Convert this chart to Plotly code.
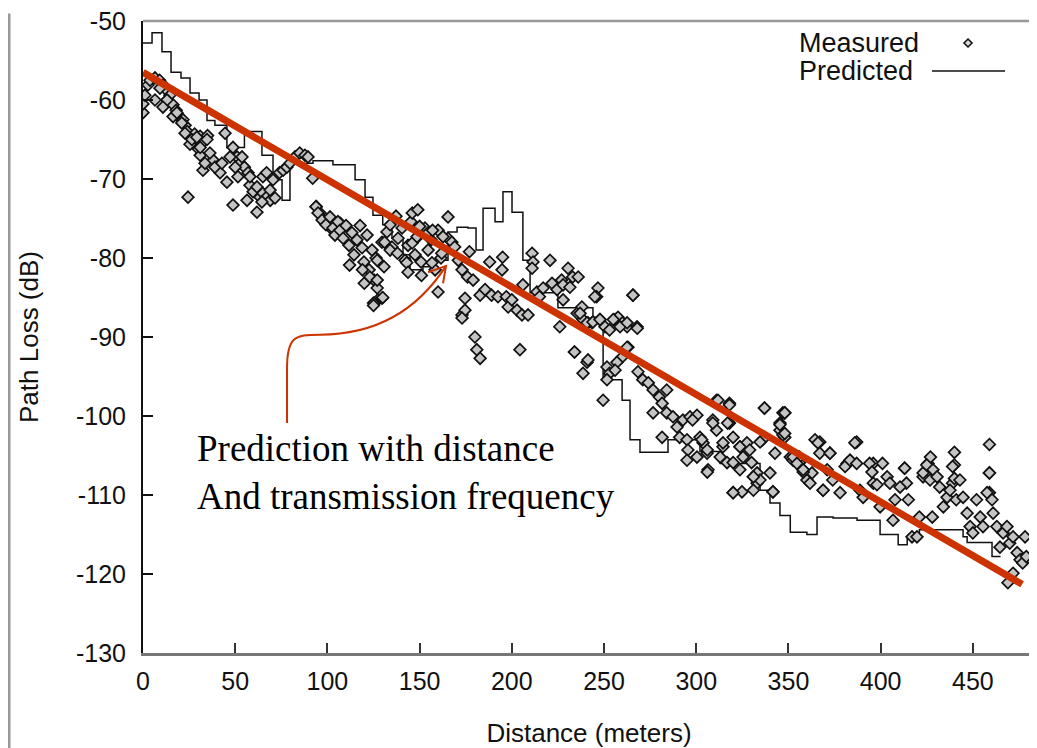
import plotly.graph_objects as go

# ---------------- data ----------------
# Measured path loss, grouped by distance band
near_x = [0, 0, 1, 2.7, 3.8, 6.5, 9, 11, 12.5, 14.6, 13, 16.3, 18, 19, 20, 21.7, 22.8,
          24, 26, 28, 29, 31, 33, 35, 25.5, 30,
          31, 32.5, 24.4, 38, 40, 41.8, 44.5, 45.5, 48.8, 48.8, 51, 52.6, 55, 57, 58, 59.7, 61.8, 63.4, 65, 67, 69, 71.6, 65, 67, 70.5, 74, 76, 78, 79.7, 82.4, 85, 87.8, 89.5, 92, 94, 96, 97.6, 101, 103, 107,
          6.5, 9.2, 13, 10.8, 16.3, 18.4, 21, 22.8, 26.5, 29.2, 34.7, 31, 36.3, 33.6, 39, 42.8, 47.2, 50, 53.7, 51.5, 58, 56.4, 61.8, 64.5, 68.9]
near_y = [-61.6, -60.5, -59.4, -58.1, -57.5, -57.2, -57.5, -58.1, -58.7, -59.4, -60, -60.6, -61.3, -61.9, -62.3, -62.5, -63.2,
          -64, -64.8, -64.3, -65.4, -64.6, -65.2, -64.5, -65.6, -66.2,
          -67, -68.9, -72.3, -67.6, -68.5, -69.2, -64.2, -70.4, -73.3, -66, -67.2, -68, -68.5, -69.2, -70.8, -71.6, -74.2, -72.3, -71.8, -72.3, -72.7, -72.4, -69.7, -69.2, -70.1, -69.2, -68.9, -68.5, -68, -67.2, -66.7, -67, -67.2, -69.9, -73.5, -74.3, -75.2, -75.6, -76.5, -75.6,
          -60, -58.5, -60, -60.9, -62.1, -61.6, -62.9, -64.2, -65, -64.7, -65, -66, -66.7, -68, -68.5, -68, -67.2, -68.5, -67.2, -69.7, -69.7, -72.7, -71, -72.9, -71.4]

band2_x = [93.8, 94.9, 97.1, 99.2, 101.4, 103, 104.1, 105.7, 106.8, 108.5, 110.1, 111.7, 113.3, 114.4, 116, 117.7, 118.8, 119.8, 121.5, 122.6, 124.2, 125.3, 126.4, 127.4, 129.6, 130.7, 132.3, 134, 135, 137.2, 138.3, 140.5, 142.1, 143.7, 145.3, 147.5, 149.1, 150.8, 152.9, 154.6, 156.2, 158.4, 160, 161.6,
           112, 119, 120, 125, 129.6, 123, 127]
band2_y = [-73.5, -74.3, -75.2, -75.8, -74.8, -76.2, -77.1, -75.4, -76.5, -77.5, -75.9, -78.4, -76.8, -79.6, -77.7, -75.9, -78.7, -80.5, -77.1, -81.5, -79, -82.8, -80, -85.3, -78, -81.1, -76.7, -75.8, -78.6, -74.7, -77.5, -76.2, -80.3, -78.4, -75.4, -79.6, -77.3, -80.5, -76.2, -79, -77.7, -81.5, -76.5, -80,
           -80.9, -81.5, -83.2, -85.7, -85.1, -82.4, -83.8]

band3_x = [127, 127, 130, 125, 131, 134, 138, 143, 143.7, 151, 146, 148.6, 146, 149, 150, 154.6, 157, 156.7, 160, 162, 165.4, 165.4, 167.5, 169, 171, 173, 176, 177, 174.6, 173, 174.6, 173, 180, 181, 182.8, 179, 182.8, 185.5, 188, 189, 192.5, 194.7, 195, 197, 198, 200, 202.8, 205.5, 204.4, 208.8, 206, 211, 211.5, 211, 213.6, 215, 217, 220.7, 221.8, 224.5, 227, 230.5, 227.8, 231.5, 233, 236, 226, 235.4, 238, 238.6, 241.3, 234, 240.8, 246.7, 246, 243.5, 247.8, 250.5, 253, 256, 257.6, 260, 262.5, 265.7, 267.9, 263, 260, 257, 162.7]
band3_y = [-80.3, -82.8, -85, -86, -78, -79, -79.4, -80.6, -81.8, -82.2, -78.1, -77.3, -74.3, -73.9, -76, -76.8, -76.5, -80.6, -84.3, -79.4, -74.8, -77.5, -78, -78.6, -80.3, -81.5, -82.4, -79.2, -85.1, -87.2, -86.6, -87.6, -90, -91.6, -92.7, -82.8, -84.7, -84, -80.5, -84.7, -84.9, -81.5, -79.9, -84.9, -86.2, -85.3, -86.6, -87.2, -91.6, -87.2, -83.4, -79.4, -80.5, -81.3, -84.3, -84.9, -83.8, -80.3, -83.2, -84, -82.8, -81.3, -83.4, -83.7, -82.4, -82.4, -88.7, -87, -86.2, -87.8, -88.2, -91.9, -93.2, -83.8, -84.9, -88.2, -87.8, -88.7, -89.1, -87.8, -87.5, -88.2, -88.7, -84.7, -88.7, -91.3, -92.5, -93.2, -77.3]

band4_x = [227.8, 245, 265.7, 234, 241.3, 238.6, 249.5, 237, 240.8, 244, 247.8, 255, 258.7, 262.5, 268, 251.6, 253, 251.6, 256, 262.5, 268.4, 271, 274, 276.6, 280, 284, 281.5, 276.6, 284, 287.4, 289.6, 281.5, 291, 295, 292.8, 296.6, 300.4, 295.5, 295, 302, 303.7, 305.9, 306.4, 309, 311, 311, 313, 314.5, 316.7, 318, 318, 320, 320, 323.7, 325.4, 323.7, 327.5, 329, 330, 331, 333, 333, 334.6, 320, 324.8, 331, 336, 337, 340, 341.6, 342.7, 345.4, 345.4, 347, 348, 351, 352.5, 356, 358, 360, 362.8, 364.4]
band4_y = [-85.3, -84.9, -84.7, -91.9, -92.9, -94.6, -98, -87, -88.2, -88.1, -87.8, -87.8, -88.7, -88.2, -88.9, -93.8, -94.6, -95.4, -94.2, -91.3, -94.4, -95.4, -95.8, -96.7, -97.6, -96.7, -98.4, -99.6, -99.6, -100.1, -101.4, -102.7, -102.7, -103, -100.5, -100.1, -99.9, -104.3, -105.6, -102.7, -103.4, -104.7, -106.8, -100.5, -98, -101.8, -105.2, -103.9, -105.9, -100.9, -98.4, -102.7, -105.9, -103.9, -105.2, -106.8, -103.4, -104.3, -105.9, -107.7, -107.2, -108.5, -108.1, -109.7, -109.6, -109.4, -103, -99, -107.2, -109.6, -104.7, -101.8, -100.9, -99.6, -102.7, -105.2, -105.6, -105.9, -106.8, -108.1, -107.2, -103]

band5_x = [311.8, 318, 337, 348, 298, 309, 317, 345.4, 347, 334.6, 367, 387, 303, 314.5, 323.7, 306, 356, 372.5, 383.4, 396, 413, 425.7, 440, 459, 300.4, 306, 320, 331, 341.6, 358, 368.8, 381.8, 396, 414, 423, 439, 459,
           459, 440, 427]
band5_y = [-98, -98.6, -99, -99.6, -100.5, -100.9, -100.9, -101.1, -102.4, -103.3, -103.3, -103.3, -103, -103.4, -103.9, -104.3, -105.2, -104.7, -105.6, -106, -106.6, -106, -106.2, -107.2, -105.2, -107.1, -109.7, -107.7, -109.6, -107.1, -109.4, -106, -108.5, -108.5, -107.7, -108.5, -109.7,
           -103.6, -104.6, -105.2]

far_x = [348, 348, 352.5, 354.6, 358, 361.7, 366, 367, 368.8, 371, 372.5, 374, 378, 380.7, 383.4, 386, 387, 388.8, 390.5, 394, 395.3, 398, 399.7, 401, 403.5, 405, 407.8, 406.7, 410.5, 413, 415, 417, 419.7, 421, 423, 425, 426.8, 428, 428.4, 430.6, 432, 434, 436, 437.6, 439, 440, 441, 443, 444.7, 446.9, 448.5, 450, 452, 454, 455.5, 457.7, 459, 460.4, 461, 463, 464.7, 466.4, 468.5, 470, 471.8, 474, 475.6, 477, 471.8, 469, 479, 478.3]
far_y = [-99.6, -102.2, -105.2, -106, -106.8, -108.5, -103.4, -104.7, -109.4, -106.8, -104.7, -108.1, -109.7, -106.4, -105.6, -103.4, -106, -109.4, -110.3, -106, -107.1, -108.7, -111.5, -106, -107.7, -108.5, -110.6, -113.2, -109, -106.6, -110.6, -115.3, -115.3, -112.8, -107.2, -106.2, -108.1, -112.8, -106.8, -107.7, -109, -111.5, -110.3, -109.4, -106.4, -107.9, -110.6, -108.1, -110.3, -112.3, -114, -114.8, -110.6, -112.8, -114, -109.7, -107.2, -110.6, -112.3, -114, -116.6, -114.8, -114, -116.1, -115.3, -117.3, -118.2, -118.6, -119.9, -121.1, -117.8, -115.3]

measured_x = near_x + band2_x + band3_x + band4_x + band5_x + far_x
measured_y = near_y + band2_y + band3_y + band4_y + band5_y + far_y

# Predicted path loss (step curve, value holds until next distance)
pred_x = [0, 4.9, 10.3, 15.2, 20.6, 25.5, 30.4, 34.7, 39, 45.5, 55, 64.5, 70.5, 75.4, 79.7, 92.2, 103,
          115, 120.4, 124.7, 130, 135, 141, 144.8, 151.8, 158.4, 165.4, 170.3, 176.2, 180.6, 184.4, 190.9,
          195.2, 200.1, 206, 209.9, 225, 244, 249.5, 259.8, 264.1, 269.5, 284.7, 302, 313, 334.6, 340,
          345.4, 351, 360, 365.5, 374.2, 387.2, 399.7, 409.5, 414.4, 417.6, 421, 444.7, 446.9, 460.4, 465]
pred_y = [-52.8, -51.5, -53.9, -56.5, -57.2, -59.1, -60.0, -62.6, -63.2, -66.0, -64.0, -67, -70.1, -72.7, -68, -67.7, -68.2,
          -70.1, -72.3, -74.6, -75.8, -77.5, -79.6, -81.5, -81.1, -80.3, -76.7, -76.1, -76.2, -79, -73.7, -75.4,
          -71.6, -74.2, -80.3, -84.4, -86.3, -87.5, -95.4, -98, -103, -104.6, -103, -104.5, -106, -109.4, -111,
          -112.6, -114.7, -115, -112.8, -112.9, -113.2, -115, -116.3, -115.3, -114.8, -114.4, -115.3, -116, -117.8, -117.8]

# Red trend line (distance + frequency prediction)
trend_x = [0, 476.7]
trend_y = [-56.5, -121.3]

x_ticks = [0, 50, 100, 150, 200, 250, 300, 350, 400, 450]
x_tick_labels = ["0", "50", "100", "150", "200", "250", "300", "350", "400", "450"]
y_ticks = [-130, -120, -110, -100, -90, -80, -70, -60, -50]
y_tick_labels = ["-130", "-120", "-110", "-100", "-90", "-80", "-70", "-60", "-50"]

note_text = "Prediction with distance<br>And transmission frequency"
arrow_curve = [(78.1, -100.9), (78.1, -94.0), (78.1, -90.0), (82.0, -89.7), (96.0, -89.7),
               (118.0, -89.7), (145.0, -88.0), (164.3, -81.0)]
arrow_head = [(154.6, -81.8), (164.3, -81.0), (162.7, -83.2)]

RED = "#cc3300"
FONT = "Liberation Sans, Arial, Helvetica, sans-serif"

fig = go.Figure()
fig.add_trace(go.Scatter(x=pred_x, y=pred_y, mode="lines", line=dict(shape="hv", color="#111", width=1.5),
                         name="Predicted", showlegend=False, hoverinfo="skip"))
fig.add_trace(go.Scatter(x=measured_x, y=measured_y, mode="markers", name="Measured", showlegend=False,
                         marker=dict(symbol="diamond", size=9, color="#c4c4c4",
                                     line=dict(color="#111", width=1.7))))
fig.add_trace(go.Scatter(x=trend_x, y=trend_y, mode="lines", line=dict(color=RED, width=7),
                         showlegend=False, hoverinfo="skip"))

# Annotation arrow
p = arrow_curve
curve_path = (f"M {p[0][0]},{p[0][1]} L {p[1][0]},{p[1][1]} "
              f"C {p[2][0]},{p[2][1]} {p[3][0]},{p[3][1]} {p[4][0]},{p[4][1]} "
              f"C {p[5][0]},{p[5][1]} {p[6][0]},{p[6][1]} {p[7][0]},{p[7][1]}")
h = arrow_head
head_path = f"M {h[0][0]},{h[0][1]} L {h[1][0]},{h[1][1]} L {h[2][0]},{h[2][1]}"

shapes = [
    dict(type="path", xref="x", yref="y", path=curve_path, line=dict(color=RED, width=2)),
    dict(type="path", xref="x", yref="y", path=head_path, line=dict(color=RED, width=2)),
    # frame
    dict(type="line", xref="paper", yref="paper", x0=0, x1=1, y0=1, y1=1, line=dict(color="#999", width=2.5)),
    dict(type="line", xref="paper", yref="paper", x0=1, x1=1, y0=0, y1=1, line=dict(color="#c8c8c8", width=2)),
    # page edge at left
    dict(type="path", xref="paper", yref="paper",
         path="M -0.1530,1.0095 L -0.1502,1.0095 L -0.1502,-0.16", line=dict(color="#999", width=3)),
    # legend samples
    dict(type="line", xref="paper", yref="paper", x0=0.8845, x1=0.9664, y0=0.9209, y1=0.9209,
         line=dict(color="#111", width=1.5)),
    dict(type="path", xref="paper", yref="paper",
         path="M 0.9204,0.9652 L 0.9249,0.9715 L 0.9294,0.9652 L 0.9249,0.9589 Z",
         line=dict(color="#111", width=1.6), fillcolor="#d9d9d9"),
]

annotations = [
    dict(x=28.2, y=-107.2, xref="x", yref="y", text=note_text, showarrow=False, align="left",
         xanchor="left", yanchor="middle", font=dict(family="Liberation Serif, Times New Roman, serif", size=37, color="#000")),
    dict(x=0.7332, y=0.9652, xref="paper", yref="paper", text="Measured", showarrow=False,
         xanchor="left", yanchor="middle", font=dict(family=FONT, size=27, color="#111")),
    dict(x=0.7332, y=0.9209, xref="paper", yref="paper", text="Predicted", showarrow=False,
         xanchor="left", yanchor="middle", font=dict(family=FONT, size=27, color="#111")),
]

# page body has an 8px margin, so the figure is 8px smaller and margins shifted
fig.update_layout(
    width=1029, height=740,
    margin=dict(l=135, r=2, t=13, b=95, autoexpand=False),
    paper_bgcolor="white", plot_bgcolor="white",
    font=dict(family=FONT, size=25, color="#111"),
    shapes=shapes, annotations=annotations, showlegend=False,
    xaxis=dict(range=[0, 483.7], tickvals=x_ticks, ticktext=x_tick_labels, ticks="inside", ticklen=10,
               tickwidth=1.5, tickcolor="#333", showgrid=False, zeroline=False, showline=True,
               linecolor="#777", linewidth=3, ticklabelstandoff=4, ticklabeloverflow="allow",
               title=dict(text="Distance (meters)", standoff=34, font=dict(size=26)), automargin=False),
    yaxis=dict(range=[-130, -50], tickvals=y_ticks, ticktext=y_tick_labels, ticks="inside", ticklen=10,
               tickwidth=1.5, tickcolor="#111", showgrid=False, zeroline=False, showline=True,
               linecolor="#111", linewidth=2, ticklabelstandoff=10, ticklabeloverflow="allow",
               title=dict(text="Path Loss (dB)", standoff=30, font=dict(size=26)), automargin=False),
)

fig.write_html("out.html")
